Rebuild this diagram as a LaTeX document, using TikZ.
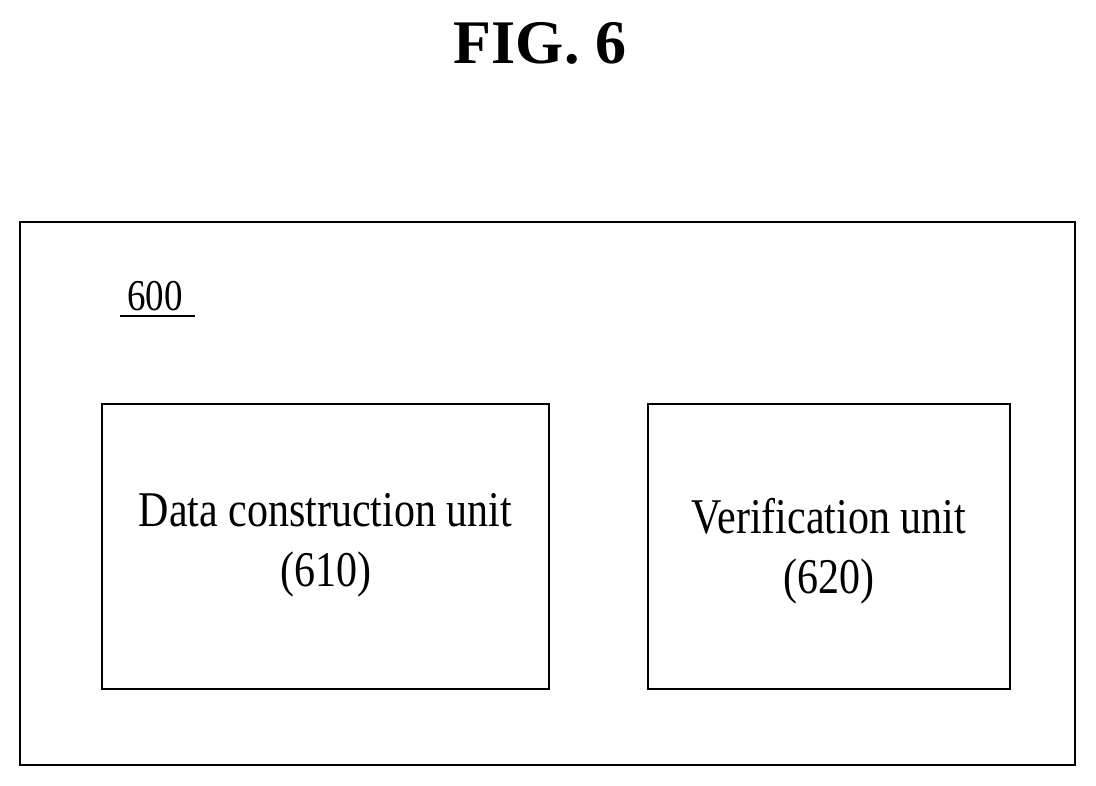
\documentclass[tikz,border=0pt]{standalone}
\usepackage{fontspec}
\setmainfont{Liberation Serif}
\newfontfamily\narrowf[FakeStretch=0.84]{Liberation Serif}
\begin{document}
\begin{tikzpicture}[x=1pt,y=-1pt,
  box/.style={draw,line width=1.3pt},
  lbl/.style={font=\narrowf\fontsize{50}{60}\selectfont,align=center}]
\useasboundingbox (0,0) rectangle (1096,786);
\node[font=\bfseries\fontsize{62}{62}\selectfont] (title) at (540,43) {FIG. 6};
\draw[box] (20,222) rectangle (1075,765);
\node[font=\narrowf\fontsize{44}{44}\selectfont] (n600) at (155,296) {600};
\coordinate (u1) at (120,316); \coordinate (u2) at (195,316);
\draw[line width=1.3pt] (u1) -- (u2);
\node[box,minimum width=447pt,minimum height=285pt] (a) at (325.5,546.5) {};
\node[box,minimum width=362pt,minimum height=285pt] (b) at (829,546.5) {};
\node[lbl] at (325.5,545) {Data construction unit\\(610)};
\node[lbl] at (829,551) {Verification unit\\(620)};
\end{tikzpicture}
\end{document}
